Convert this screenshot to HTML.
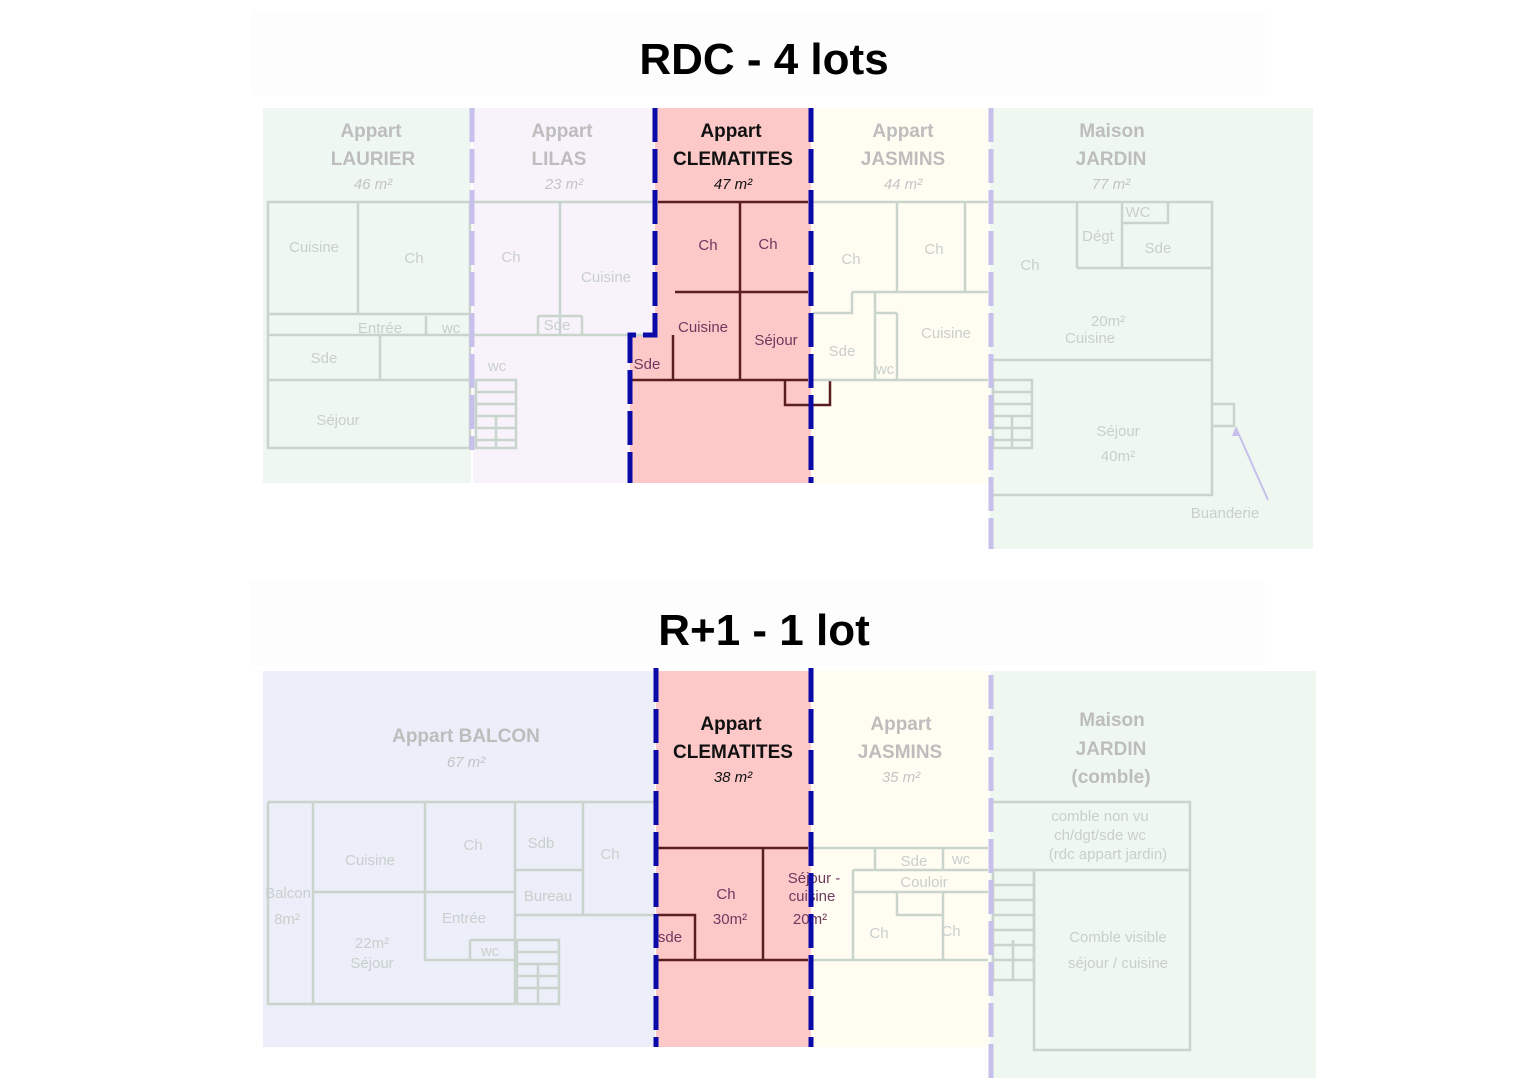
<!DOCTYPE html>
<html><head><meta charset="utf-8"><style>
html,body{margin:0;padding:0;background:#fff;width:1528px;height:1080px;overflow:hidden}
svg{display:block}
text{font-family:"Liberation Sans",sans-serif}
.t{font-size:19px;font-weight:bold;fill:#bdbdbd;text-anchor:middle}
.tk{font-size:19px;font-weight:bold;fill:#111;text-anchor:middle}
.a{font-size:15px;font-style:italic;fill:#c4c4c4;text-anchor:middle}
.ak{font-size:15px;font-style:italic;fill:#111;text-anchor:middle}
.r{font-size:15px;fill:#c9cfcc;text-anchor:middle}
.rk{font-size:15px;fill:#6e3a5e;text-anchor:middle}
.l{stroke:#c9d4cd;stroke-width:2.5;fill:none}
.lk{stroke:#5a1e1e;stroke-width:2.5;fill:none}
.bd{stroke:#0a0aa8;stroke-width:5;stroke-dasharray:34 7;fill:none}
.ld{stroke:#c6c0ea;stroke-width:5;stroke-dasharray:34 7;fill:none}
</style></head><body>
<svg width="1528" height="1080" viewBox="0 0 1528 1080" xmlns="http://www.w3.org/2000/svg">
<rect x="250" y="10" width="1015" height="85" fill="#fdfdfd"/>
<rect x="250" y="580" width="1015" height="85" fill="#fdfdfd"/>
<text x="764" y="74" font-size="44" font-weight="bold" text-anchor="middle" fill="#000">RDC - 4 lots</text>
<text x="764" y="645" font-size="44" font-weight="bold" text-anchor="middle" fill="#000">R+1 - 1 lot</text>

<rect x="263" y="108" width="208" height="375" fill="#eef7f1"/>
<rect x="473" y="108" width="181" height="375" fill="#f8f3fb"/>
<rect x="655" y="108" width="156" height="375" fill="#fdc8c8"/>
<rect x="630" y="335" width="26" height="148" fill="#fdc8c8"/>
<rect x="812" y="108" width="177" height="375" fill="#fffdf2"/>
<rect x="990" y="108" width="323" height="441" fill="#eef8f1"/>

<text class="t" x="371" y="137">Appart</text><text class="t" x="373" y="165">LAURIER</text><text class="a" x="373" y="189">46 m²</text>
<text class="t" x="562" y="137">Appart</text><text class="t" x="559" y="165">LILAS</text><text class="a" x="564" y="189">23 m²</text>
<text class="tk" x="731" y="137">Appart</text><text class="tk" x="733" y="165">CLEMATITES</text><text class="ak" x="733" y="189">47 m²</text>
<text class="t" x="903" y="137">Appart</text><text class="t" x="903" y="165">JASMINS</text><text class="a" x="903" y="189">44 m²</text>
<text class="t" x="1112" y="137">Maison</text><text class="t" x="1111" y="165">JARDIN</text><text class="a" x="1111" y="189">77 m²</text>

<rect class="l" x="268" y="202" width="202" height="246"/>
<path class="l" d="M358 202V314M268 314H470M268 335H470M426 316V335M268 380H470M380 335V380"/>
<text class="r" x="314" y="252">Cuisine</text><text class="r" x="414" y="263">Ch</text>
<text class="r" x="380" y="333">Entrée</text><text class="r" x="451" y="333">wc</text>
<text class="r" x="324" y="363">Sde</text><text class="r" x="338" y="425">Séjour</text>
<path class="l" d="M474 202H652M560 202V335M474 335H652M538 316V335M582 316V335M538 316H582"/>
<rect class="l" x="476" y="380" width="40" height="68"/>
<path class="l" d="M476 392H516M476 404H516M476 416H516M476 428H516M476 440H516M496 416V448"/>
<text class="r" x="511" y="262">Ch</text><text class="r" x="606" y="282">Cuisine</text>
<text class="r" x="557" y="330">Sde</text><text class="r" x="497" y="371">wc</text>
<path class="lk" d="M658 202H808M740 202V380M675 292H808M673 335V380M632 380H808M785 380V405H830V380"/>
<text class="rk" x="708" y="250">Ch</text><text class="rk" x="768" y="249">Ch</text>
<text class="rk" x="703" y="332">Cuisine</text><text class="rk" x="776" y="345">Séjour</text><text class="rk" x="647" y="369">Sde</text>
<path class="l" d="M813 202H988M897 202V292M965 202V292M852 292H988M852 292V313H813M875 292V380M897 313V380M875 313H897M813 380H988"/>
<text class="r" x="851" y="264">Ch</text><text class="r" x="934" y="254">Ch</text>
<text class="r" x="946" y="338">Cuisine</text><text class="r" x="842" y="356">Sde</text><text class="r" x="885" y="374" font-size="13">wc</text>
<path class="l" d="M993 202H1212V495H993M1077 202V268M1122 202V268M1122 223H1168V202M1077 268H1212M993 360H1212M1212 404H1234V426H1212"/>
<rect class="l" x="993" y="380" width="39" height="68"/>
<path class="l" d="M993 392H1032M993 404H1032M993 416H1032M993 428H1032M993 440H1032M1012 416V448"/>
<path d="M1268 500L1236 428" stroke="#c6c0ea" stroke-width="2"/>
<path d="M1236 426l-4 10h8z" fill="#c6c0ea"/>
<text class="r" x="1030" y="270">Ch</text><text class="r" x="1098" y="241">Dégt</text><text class="r" x="1138" y="217" font-size="12">WC</text>
<text class="r" x="1158" y="253">Sde</text><text class="r" x="1108" y="326">20m²</text><text class="r" x="1090" y="343">Cuisine</text>
<text class="r" x="1118" y="436">Séjour</text><text class="r" x="1118" y="461">40m²</text><text class="r" x="1225" y="518">Buanderie</text>

<path class="ld" d="M472 108V450"/>
<path class="ld" d="M991 108V549"/>
<path class="bd" d="M655 108V335H630V483"/>
<path class="bd" d="M811 108V483"/>

<rect x="263" y="671" width="392" height="376" fill="#eceef9"/>
<rect x="656" y="671" width="155" height="376" fill="#fdc8c8"/>
<rect x="812" y="671" width="177" height="376" fill="#fffdf2"/>
<rect x="990" y="671" width="326" height="407" fill="#eef8f1"/>

<text class="t" x="466" y="742">Appart BALCON</text><text class="a" x="466" y="767">67 m²</text>
<text class="tk" x="731" y="730">Appart</text><text class="tk" x="733" y="758">CLEMATITES</text><text class="ak" x="733" y="782">38 m²</text>
<text class="t" x="901" y="730">Appart</text><text class="t" x="900" y="758">JASMINS</text><text class="a" x="901" y="782">35 m²</text>
<text class="t" x="1112" y="726">Maison</text><text class="t" x="1111" y="755">JARDIN</text><text class="t" x="1111" y="783">(comble)</text>

<path class="l" d="M268 802H655M268 802V1004H515M313 802V1004M425 802V960H515M515 802V1004M583 802V915H655M313 892H515M515 870H583M515 915H583M470 940H515M470 940V960"/>
<rect class="l" x="517" y="940" width="42" height="64"/>
<path class="l" d="M517 952H559M517 964H559M517 976H559M517 988H559M538 964V1004"/>
<text class="r" x="370" y="865">Cuisine</text><text class="r" x="473" y="850">Ch</text><text class="r" x="541" y="848">Sdb</text><text class="r" x="610" y="859">Ch</text>
<text class="r" x="288" y="898">Balcon</text><text class="r" x="287" y="924">8m²</text><text class="r" x="548" y="901">Bureau</text>
<text class="r" x="464" y="923">Entrée</text><text class="r" x="490" y="956" font-size="13">wc</text>
<text class="r" x="372" y="948">22m²</text><text class="r" x="372" y="968">Séjour</text>
<path class="lk" d="M658 848H808M763 848V960M658 960H808M658 915H695V960"/>
<text class="rk" x="726" y="899">Ch</text><text class="rk" x="730" y="924">30m²</text>
<text class="rk" x="814" y="883">Séjour -</text><text class="rk" x="812" y="901">cuisine</text><text class="rk" x="810" y="924">20m²</text>
<text class="rk" x="670" y="942">sde</text>
<path class="l" d="M813 848H988M875 848V870M943 848V870M853 870H988M853 870V892H988M853 892V960M897 892V915H943V892M943 915V960M813 960H988"/>
<text class="r" x="914" y="866">Sde</text><text class="r" x="961" y="864" font-size="13">wc</text>
<text class="r" x="924" y="887">Couloir</text><text class="r" x="879" y="938">Ch</text><text class="r" x="951" y="936">Ch</text>
<path class="l" d="M993 802H1190V1050H1034V870H993M1034 870H1190"/>
<rect class="l" x="993" y="870" width="41" height="110"/>
<path class="l" d="M993 885H1034M993 900H1034M993 915H1034M993 930H1034M993 945H1034M993 960H1034M1013 940V980"/>
<text class="r" x="1100" y="821">comble non vu</text><text class="r" x="1100" y="840">ch/dgt/sde wc</text><text class="r" x="1108" y="859">(rdc appart jardin)</text>
<text class="r" x="1118" y="942">Comble visible</text><text class="r" x="1118" y="968">séjour / cuisine</text>

<path class="ld" d="M991 675V1078"/>
<path class="bd" d="M656 668V1047"/>
<path class="bd" d="M811 668V1047"/>
</svg>
</body></html>
